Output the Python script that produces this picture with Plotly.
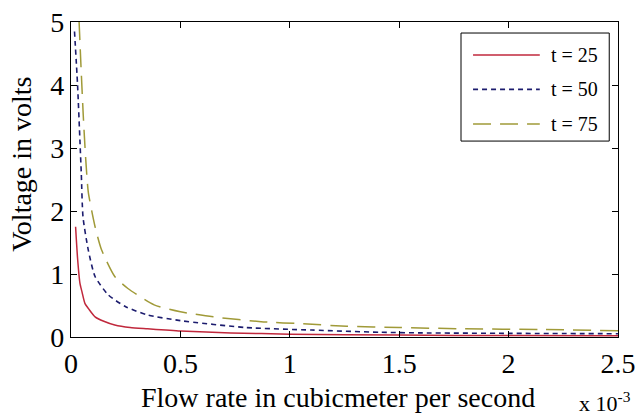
import plotly.graph_objects as go

# Flow rate in units of 1e-3 m^3/s, voltage in volts
flow_t25 = [0.021, 0.03, 0.041, 0.05, 0.064, 0.08, 0.11, 0.15, 0.20, 0.27, 0.35, 0.5, 0.73, 1.0, 1.5, 2.0, 2.5]
volt_t25 = [1.75, 1.25, 0.85, 0.72, 0.53, 0.45, 0.32, 0.25, 0.19, 0.15, 0.13, 0.095, 0.065, 0.045, 0.03, 0.022, 0.018]

flow_t50 = [0.016, 0.03, 0.041, 0.047, 0.055, 0.079, 0.11, 0.17, 0.25, 0.35, 0.5, 0.8, 1.1, 1.41, 1.6, 2.0, 2.5]
volt_t50 = [4.85, 4.0, 3.1, 2.6, 1.9, 1.38, 0.96, 0.67, 0.48, 0.35, 0.26, 0.15, 0.11, 0.075, 0.065, 0.058, 0.052]

flow_t75 = [0.037, 0.046, 0.056, 0.067, 0.079, 0.11, 0.14, 0.2, 0.26, 0.38, 0.5, 0.65, 0.88, 1.06, 1.26, 1.5, 1.8, 2.14, 2.5]
volt_t75 = [5.0, 4.27, 3.52, 2.84, 2.3, 1.75, 1.38, 0.96, 0.77, 0.51, 0.40, 0.32, 0.24, 0.21, 0.17, 0.15, 0.13, 0.12, 0.10]

series_names = ["t = 25", "t = 50", "t = 75"]
x_ticks = [0, 0.5, 1, 1.5, 2, 2.5]
x_tick_text = ["0", "0.5", "1", "1.5", "2", "2.5"]
y_ticks = [0, 1, 2, 3, 4, 5]
x_title = "Flow rate in cubicmeter per second"
y_title = "Voltage in volts"
x_multiplier = "x 10<sup>-3</sup>"

FONT = "Liberation Serif"
colors = ["#c0283c", "#1c1c6e", "#a09a38"]
dashes = ["solid", "5px,4px", "18px,9px"]
widths = [1.5, 1.6, 1.5]

fig = go.Figure()
for xs, ys, nm, c, d, w in zip([flow_t25, flow_t50, flow_t75], [volt_t25, volt_t50, volt_t75],
                               series_names, colors, dashes, widths):
    fig.add_trace(go.Scatter(x=xs, y=ys, mode="lines", name=nm, showlegend=False,
                             line=dict(color=c, width=w, dash=d, shape="spline", smoothing=0.6)))

# Legend box drawn in paper coordinates
fig.add_shape(type="rect", xref="paper", yref="paper", x0=0.713, x1=0.984, y0=0.622, y1=0.965,
              line=dict(color="black", width=1), fillcolor="white", layer="above")
row_y = [0.895, 0.786, 0.676]
for ry, nm, c, d, w in zip(row_y, series_names, colors, dashes, widths):
    fig.add_shape(type="line", xref="paper", yref="paper", x0=0.735, x1=0.857, y0=ry, y1=ry,
                  line=dict(color=c, width=w, dash=d), layer="above")
    fig.add_annotation(text=nm, xref="paper", yref="paper", x=0.874, y=ry,
                       xanchor="left", yanchor="middle", showarrow=False,
                       font=dict(family=FONT, size=20, color="black"))

axis_common = dict(showline=True, linecolor="black", linewidth=1.2, mirror="ticks",
                   ticks="inside", ticklen=6, tickcolor="black", showgrid=False, zeroline=False,
                   ticklabeloverflow="allow", automargin=False,
                   tickfont=dict(family=FONT, size=28, color="black"))

fig.update_xaxes(range=[0, 2.5], tickvals=x_ticks, ticktext=x_tick_text, ticklabelstandoff=1,
                 **axis_common)
fig.update_yaxes(range=[0, 5], tickvals=y_ticks, ticklabelstandoff=0,
                 **axis_common)

# Axis titles
fig.add_annotation(text=x_title, xref="paper", yref="paper", x=0.489, y=-0.192,
                   xanchor="center", yanchor="middle", showarrow=False,
                   font=dict(family=FONT, size=28, color="black"))
fig.add_annotation(text=y_title, xref="paper", yref="paper", x=-0.0896, y=0.55,
                   xanchor="center", yanchor="middle", showarrow=False, textangle=-90,
                   font=dict(family=FONT, size=28, color="black"))

fig.add_annotation(text=x_multiplier, xref="paper", yref="paper",
                   x=1.027, y=-0.206, xanchor="right", yanchor="middle", showarrow=False,
                   font=dict(family=FONT, size=22, color="black"))

fig.update_layout(
    width=635, height=416,
    margin=dict(l=71, r=17, t=22, b=79, autoexpand=False),
    paper_bgcolor="white", plot_bgcolor="white",
    showlegend=False,
)

# Remove the browser's default 8px body margin so the figure fills the window exactly.
fig.write_html("out.html", config={"displayModeBar": False},
               post_script="document.body.style.margin='0';")
